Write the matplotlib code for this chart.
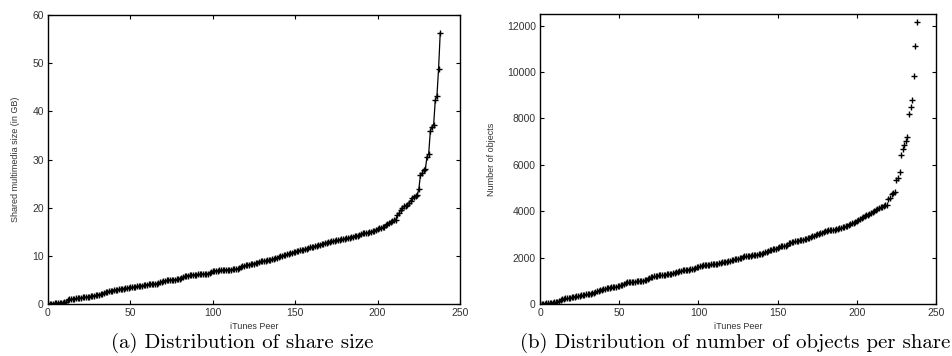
import numpy as np
import matplotlib.pyplot as plt

# sorted share size per peer (GB)
share_size = [
    0.0, 0.05, 0.1, 0.1, 0.15, 0.2, 0.2, 0.25, 0.3, 0.3,
    0.35, 0.4, 0.8, 0.95, 1.0, 1.05, 1.1, 1.15, 1.2, 1.25,
    1.3, 1.35, 1.4, 1.45, 1.5, 1.55, 1.6, 1.7, 1.75, 1.8,
    1.85, 1.95, 2.05, 2.15, 2.25, 2.5, 2.55, 2.6, 2.7, 2.8,
    2.9, 2.95, 3.0, 3.05, 3.1, 3.15, 3.2, 3.25, 3.3, 3.4,
    3.45, 3.5, 3.55, 3.6, 3.65, 3.7, 3.75, 3.8, 3.85, 3.9,
    4.0, 4.05, 4.1, 4.15, 4.15, 4.2, 4.25, 4.3, 4.5, 4.6,
    4.75, 4.85, 4.9, 4.95, 5.0, 5.0, 5.05, 5.05, 5.1, 5.15,
    5.2, 5.35, 5.55, 5.75, 5.85, 5.9, 5.95, 6.0, 6.05, 6.1,
    6.1, 6.15, 6.15, 6.2, 6.2, 6.25, 6.25, 6.3, 6.4, 6.6,
    6.8, 6.9, 6.95, 6.95, 7.0, 7.0, 7.05, 7.05, 7.1, 7.1,
    7.15, 7.15, 7.2, 7.2, 7.25, 7.3, 7.5, 7.65, 7.8, 7.9,
    8.0, 8.05, 8.15, 8.25, 8.3, 8.4, 8.5, 8.6, 8.75, 8.85,
    8.9, 8.95, 9.0, 9.05, 9.1, 9.2, 9.3, 9.4, 9.5, 9.6,
    9.75, 9.9, 10.0, 10.1, 10.2, 10.3, 10.4, 10.5, 10.65, 10.75,
    10.85, 10.95, 11.05, 11.15, 11.2, 11.3, 11.4, 11.5, 11.7, 11.8,
    11.85, 11.9, 12.0, 12.1, 12.2, 12.3, 12.4, 12.55, 12.65, 12.75,
    12.85, 12.9, 13.0, 13.05, 13.1, 13.2, 13.25, 13.3, 13.4, 13.45,
    13.55, 13.6, 13.7, 13.8, 13.9, 14.0, 14.1, 14.15, 14.2, 14.3,
    14.5, 14.65, 14.7, 14.75, 14.8, 14.9, 15.0, 15.1, 15.2, 15.3,
    15.5, 15.7, 15.8, 15.9, 16.0, 16.3, 16.6, 16.9, 17.1, 17.3,
    17.4, 17.5, 18.5, 18.8, 19.5, 20.0, 20.3, 20.4, 20.6, 21.0,
    21.4, 22.0, 22.3, 22.5, 22.6, 23.8, 26.8, 27.1, 27.9, 28.1,
    30.6, 31.2, 35.9, 36.8, 37.2, 42.3, 43.2, 48.8, 56.3,
]

# sorted number of objects per peer
num_objects = [
    0, 10, 15, 20, 25, 30, 40, 50, 60, 70,
    80, 100, 150, 180, 200, 220, 240, 260, 270, 280,
    300, 310, 320, 330, 340, 350, 370, 390, 400, 420,
    430, 440, 450, 460, 480, 500, 540, 570, 590, 610,
    630, 650, 670, 690, 710, 720, 730, 740, 750, 760,
    780, 800, 840, 880, 910, 930, 940, 950, 955, 960,
    965, 970, 980, 990, 1000, 1010, 1020, 1040, 1060, 1100,
    1150, 1180, 1200, 1210, 1220, 1230, 1240, 1250, 1260, 1270,
    1280, 1290, 1300, 1310, 1320, 1330, 1360, 1390, 1420, 1440,
    1450, 1460, 1470, 1475, 1480, 1490, 1500, 1520, 1550, 1580,
    1600, 1620, 1640, 1660, 1680, 1690, 1695, 1700, 1705, 1710,
    1715, 1720, 1740, 1760, 1780, 1790, 1800, 1810, 1830, 1850,
    1870, 1890, 1910, 1930, 1940, 1950, 1970, 2000, 2030, 2050,
    2060, 2070, 2080, 2090, 2100, 2110, 2120, 2130, 2140, 2150,
    2170, 2200, 2230, 2260, 2290, 2310, 2330, 2350, 2370, 2390,
    2420, 2450, 2480, 2500, 2510, 2520, 2560, 2610, 2650, 2670,
    2690, 2700, 2710, 2720, 2740, 2760, 2780, 2800, 2820, 2840,
    2860, 2880, 2910, 2950, 2990, 3010, 3030, 3050, 3080, 3120,
    3150, 3160, 3170, 3175, 3180, 3190, 3200, 3220, 3240, 3260,
    3280, 3300, 3320, 3350, 3380, 3400, 3430, 3470, 3510, 3550,
    3590, 3630, 3670, 3710, 3750, 3790, 3820, 3850, 3880, 3920,
    3950, 3990, 4040, 4080, 4120, 4160, 4200, 4230, 4260, 4280,
    4540, 4560, 4750, 4790, 4840, 5350, 5420, 5670, 6420, 6690,
    6850, 7020, 7180, 8170, 8470, 8780, 9830, 11130, 12160,
]

plt.rcParams["font.family"] = ["Liberation Sans", "DejaVu Sans"]
tick_color = "#333333"

fig = plt.figure(figsize=(9.53, 3.56), dpi=100)
ax1 = fig.add_axes([48 / 953, 52 / 356, 412 / 953, 289 / 356])
ax2 = fig.add_axes([540 / 953, 52 / 356, 396 / 953, 290 / 356])

peers1 = np.arange(len(share_size))
peers2 = np.arange(len(num_objects))

ax1.plot(peers1, share_size, color="black", linewidth=0.9,
         marker="+", markersize=5, markeredgewidth=1.0)
ax2.plot(peers2, num_objects, linestyle="none", color="black",
         marker="+", markersize=5, markeredgewidth=1.0)

ax1.set_xlim(0, 250)
ax1.set_ylim(0, 60)
ax1.set_ylabel("Shared multimedia size (in GB)", fontsize=6.5, color=tick_color)

ax2.set_xlim(0, 250)
ax2.set_ylim(0, 12500)
ax2.set_yticks([0, 2000, 4000, 6000, 8000, 10000, 12000])
ax2.set_ylabel("Number of objects", fontsize=6.5, color=tick_color)

for ax in (ax1, ax2):
    ax.set_xticks([0, 50, 100, 150, 200, 250])
    ax.set_xlabel("iTunes Peer", fontsize=6.5, color=tick_color, labelpad=3)
    ax.tick_params(direction="in", length=3, width=0.8, top=True, right=True,
                   labelsize=7.5, labelcolor=tick_color, pad=3)
    for s in ax.spines.values():
        s.set_linewidth(1.0)

ax1.yaxis.set_label_coords(-0.068, 0.5)
ax2.yaxis.set_label_coords(-0.11, 0.5)

fig.text(242 / 953, 1 - 343 / 356, "(a) Distribution of share size",
         family="cmr10", fontsize=15, ha="center", va="center")
fig.text(735 / 953, 1 - 343 / 356, "(b) Distribution of number of objects per share",
         family="cmr10", fontsize=15, ha="center", va="center")

fig.savefig("out.png", dpi=100)
